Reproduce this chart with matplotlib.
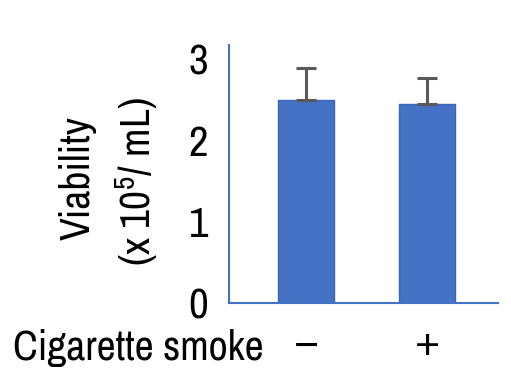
import matplotlib
matplotlib.use("Agg")
import matplotlib.pyplot as plt

# data
groups = ["−", "+"]
viability = [2.50, 2.44]
sd = [0.39, 0.32]

fams = ["Archivo Narrow", "Liberation Sans", "DejaVu Sans"]
plt.rcParams["font.family"] = fams
plt.rcParams["mathtext.fontset"] = "custom"
plt.rcParams["mathtext.rm"] = "Archivo Narrow"
plt.rcParams["mathtext.it"] = "Archivo Narrow"

blue = "#4472C4"
W, H = 511, 392
fig = plt.figure(figsize=(W / 100, H / 100), dpi=100)
ax = fig.add_axes([229 / W, (H - 303) / H, (498 - 229) / W, (303 - 45) / H])

x = range(len(groups))
ax.bar(x, viability, width=0.463, color=blue, edgecolor="#3a66b8", linewidth=1)
ax.errorbar(x, viability, yerr=[[0] * len(sd), sd], fmt="none",
            ecolor="#595959", elinewidth=2.2, capsize=7, capthick=2.2)

ax.set_xlim(-0.636, 1.587)
ax.set_ylim(0, 3.17)
ax.set_yticks([0, 1, 2, 3])
ax.set_xticks(list(x))
ax.set_xticklabels(groups, family=["Liberation Sans", "DejaVu Sans"])
ax.tick_params(axis="y", length=0, pad=15, labelsize=31)
ax.tick_params(axis="x", length=0, pad=18, labelsize=31)

for s in ["top", "right"]:
    ax.spines[s].set_visible(False)
for s in ["left", "bottom"]:
    ax.spines[s].set_color(blue)
    ax.spines[s].set_linewidth(1.5)

fig.text(78 / W, 1 - 178 / H, "Viability", rotation=90, ha="center", va="center", fontsize=30)
fig.text(137 / W, 1 - 182 / H, "(x 10$^5$/ mL)", rotation=90, ha="center", va="center", fontsize=30)
fig.text(13 / W, 1 - 348 / H, "Cigarette smoke", ha="left", va="center", fontsize=30)

fig.savefig("out.png", dpi=100)
